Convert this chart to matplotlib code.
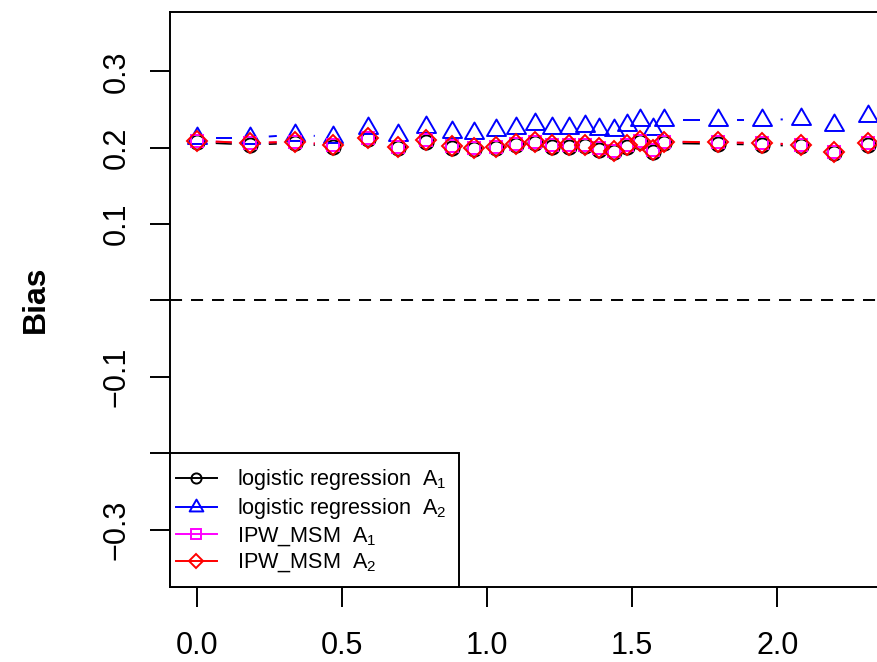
import numpy as np
import matplotlib
matplotlib.use("Agg")
import matplotlib.pyplot as plt
from matplotlib.collections import LineCollection
from matplotlib.lines import Line2D
from matplotlib.patches import Rectangle
from matplotlib.path import Path

plt.rcParams['font.family'] = ['Liberation Sans', 'DejaVu Sans']
plt.rcParams['mathtext.fontset'] = 'custom'
plt.rcParams['mathtext.rm'] = 'Liberation Sans'
plt.rcParams['mathtext.it'] = 'Liberation Sans:italic'

# -------- DATA --------
x_vals = [0.0, 0.183, 0.338, 0.469, 0.590, 0.693, 0.790, 0.879, 0.955, 1.031,
          1.100, 1.166, 1.224, 1.283, 1.338, 1.386, 1.438, 1.483, 1.528, 1.572,
          1.610, 1.797, 1.948, 2.083, 2.197, 2.314]

logit_a1 = [0.207, 0.204, 0.206, 0.201, 0.211, 0.199, 0.208, 0.200, 0.198, 0.199,
            0.203, 0.206, 0.201, 0.201, 0.202, 0.197, 0.194, 0.201, 0.207, 0.195,
            0.206, 0.205, 0.204, 0.202, 0.193, 0.204]
logit_a2 = [0.213, 0.213, 0.217, 0.214, 0.226, 0.217, 0.227, 0.221, 0.219, 0.223,
            0.226, 0.231, 0.226, 0.226, 0.229, 0.225, 0.223, 0.230, 0.236, 0.225,
            0.236, 0.236, 0.236, 0.238, 0.230, 0.241]
ipw_a1 = [0.209, 0.206, 0.208, 0.203, 0.213, 0.201, 0.210, 0.202, 0.200, 0.201,
          0.205, 0.208, 0.203, 0.203, 0.204, 0.199, 0.196, 0.203, 0.209, 0.197,
          0.208, 0.207, 0.206, 0.204, 0.195, 0.206]
ipw_a2 = [0.209, 0.206, 0.208, 0.203, 0.213, 0.201, 0.210, 0.202, 0.200, 0.201,
          0.205, 0.208, 0.203, 0.203, 0.204, 0.199, 0.196, 0.203, 0.209, 0.197,
          0.208, 0.207, 0.206, 0.204, 0.195, 0.206]

series_labels = [r"logistic regression  $\mathregular{A_1}$",
                 r"logistic regression  $\mathregular{A_2}$",
                 r"IPW_MSM  $\mathregular{A_1}$",
                 r"IPW_MSM  $\mathregular{A_2}$"]

x_ticks = [0.0, 0.5, 1.0, 1.5, 2.0]
x_tick_labels = ["0.0", "0.5", "1.0", "1.5", "2.0"]
y_ticks = [-0.3, -0.2, -0.1, 0.0, 0.1, 0.2, 0.3]
# R drops the labels that would overlap
y_tick_labels = ["\u22120.3", "", "\u22120.1", "", "0.1", "0.2", "0.3"]
# ----------------------

# R style triangle (pch = 2), centred on its centroid
tri = Path([(0, 1.555), (1.347, -0.778), (-1.347, -0.778), (0, 1.555)],
           [Path.MOVETO, Path.LINETO, Path.LINETO, Path.CLOSEPOLY])

styles = [
    dict(color='black', marker='o', ms=10.2, lms=7.3),
    dict(color='#0000FF', marker=tri, ms=15.8, lms=11.4),
    dict(color='#FF00FF', marker='s', ms=9.0, lms=6.5),
    dict(color='#FF0000', marker='D', ms=10.2, lms=7.3),
]
LW = 1.4
GAP_PX = 18.5


def gapped_segments(ax, x, y, gap):
    """Segments between points, cut back near each point like R type='b'"""
    pts = ax.transData.transform(np.column_stack([x, y]))
    inv = ax.transData.inverted()
    segs = []
    for p0, p1 in zip(pts[:-1], pts[1:]):
        d = p1 - p0
        length = np.hypot(d[0], d[1])
        if length <= 2 * gap:
            continue
        u = d / length
        segs.append(inv.transform(np.array([p0 + u * gap, p1 - u * gap])))
    return segs


fig = plt.figure(figsize=(8.77, 6.62), dpi=100)
ax = fig.add_axes([170 / 877, 75 / 662, 729 / 877, 575 / 662])
ax.set_xlim(-0.094, 2.42)
ax.set_ylim(-0.375, 0.3776)

ax.axhline(0, color='black', lw=LW, dashes=(6.2, 4.6), zorder=1)

all_series = [logit_a1, logit_a2, ipw_a1, ipw_a2]
handles = []
for i, (yv, st) in enumerate(zip(all_series, styles)):
    segs = gapped_segments(ax, x_vals, yv, GAP_PX)
    ax.add_collection(LineCollection(segs, colors=st['color'], linewidths=LW,
                                     zorder=2 + i))
    ax.plot(x_vals, yv, ls='none', marker=st['marker'], ms=st['ms'],
            mfc='none', mec=st['color'], mew=LW, zorder=2 + i)
    handles.append(Line2D([], [], color=st['color'], lw=LW, marker=st['marker'],
                          ms=st['lms'], mfc='none', mec=st['color'], mew=LW))

# axes frame: left, top, bottom (right edge falls outside the image)
for side in ['left', 'top', 'bottom', 'right']:
    ax.spines[side].set_linewidth(LW)

ax.set_xticks(x_ticks)
ax.set_xticklabels(x_tick_labels)
ax.set_yticks(y_ticks)
ax.set_yticklabels(y_tick_labels, rotation=90, va='center')
ax.tick_params(axis='both', direction='out', length=14.4, width=LW,
               labelsize=22)
ax.tick_params(axis='x', pad=17.5)
ax.tick_params(axis='y', pad=13.4)

ax.set_ylabel('Bias', fontsize=23, fontweight='bold')
ax.yaxis.set_label_coords(-0.184, 0.5)
ax.yaxis.label.set_va('center')

# legend box in the bottom left corner
ax.add_patch(Rectangle((0, 0), 289 / 729, (587 - 453) / 575, transform=ax.transAxes,
                       fill=True, facecolor='white', edgecolor='black', lw=LW,
                       zorder=10, clip_on=False))
leg = ax.legend(handles, series_labels, loc='upper left',
                bbox_to_anchor=(6 / 729, (587 - 467.5) / 575), frameon=False,
                borderpad=0, borderaxespad=0, fontsize=15.6, handlelength=1.89,
                handletextpad=0.92, labelspacing=0.18)
leg.set_zorder(11)

fig.savefig('out.png', dpi=100)
